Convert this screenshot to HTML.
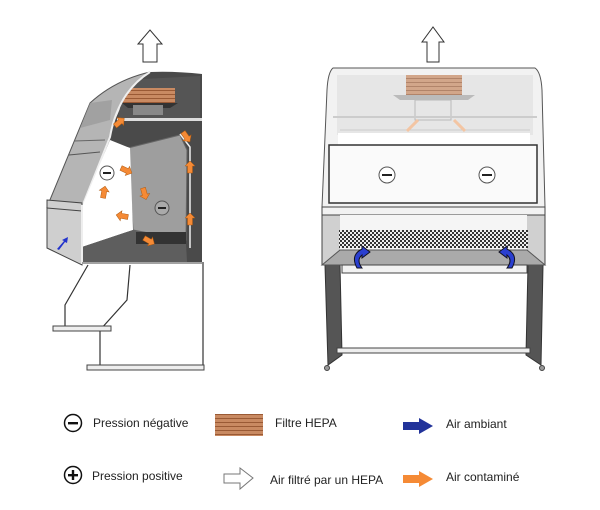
<!DOCTYPE html>
<html><head><meta charset="utf-8"><style>
html,body{margin:0;padding:0;background:#fff;}
svg{display:block;}
text{font-family:"Liberation Sans",Arial,sans-serif;font-size:12px;fill:#222;}
</style></head><body>
<svg width="600" height="510" viewBox="0 0 600 510" xmlns="http://www.w3.org/2000/svg">
<defs>
<pattern id="cu" width="4" height="4" patternUnits="userSpaceOnUse">
<rect width="4" height="4" fill="#c98a62"/><rect y="2" width="4" height="1" fill="#9a5a35"/>
</pattern>
<pattern id="mesh" width="4" height="4" patternUnits="userSpaceOnUse">
<rect width="4" height="4" fill="#eee"/><rect width="2" height="2" fill="#333"/><rect x="2" y="2" width="2" height="2" fill="#333"/>
</pattern>
<g id="oa"><path d="M0,-2.5 L7,-2.5 L7,-5 L12,0 L7,5 L7,2.5 L0,2.5Z" fill="#f58a35" stroke="#b05a10" stroke-width="0.5"/></g>
</defs>

<!-- LEFT CABINET -->
<path d="M143,62 L143,44 L138,44 L150,30 L162,44 L157,44 L157,62Z" fill="#fff" stroke="#333" stroke-width="1"/>
<g fill="none" stroke="#333" stroke-width="1.2">
<path d="M88,265 L65,305 L65,328"/><path d="M130,265 L127,300 L100,330 L100,366"/>
<path d="M203,262 L203,366"/>
</g>
<rect x="53" y="326" width="58" height="5" fill="#eee" stroke="#444"/>
<rect x="87" y="365" width="117" height="5" fill="#eee" stroke="#444"/>
<!-- dark back body -->
<path d="M150,72 Q175,71 202,74 L202,262 L82,262 L82,207 L110,137 Q120,95 150,72Z" fill="#4a4a4a"/>
<!-- top box -->
<path d="M125,80 L200,76 L200,118 L118,118 Z" fill="#555"/>
<rect x="123" y="88" width="52" height="15" fill="url(#cu)"/>
<path d="M122,103 L178,103 L170,108 L128,108Z" fill="#333"/>
<rect x="133" y="105" width="30" height="10" fill="#888"/>
<rect x="117" y="118" width="85" height="3" fill="#ddd"/>
<!-- glass hood -->
<path d="M150,72 Q115,80 90,103 L47,207 L82,207 L110,137 Q118,92 150,72Z" fill="#b5b5b5" stroke="#555" stroke-width="1"/>
<path d="M90,103 L112,100 L110,120 L80,128Z" fill="#999" opacity="0.7"/>
<line x1="69" y1="155" x2="100" y2="152" stroke="#555"/>
<line x1="74" y1="141" x2="105" y2="140" stroke="#666"/>
<path d="M150,72 Q118,92 110,137 L82,207" fill="none" stroke="#eee" stroke-width="2"/>
<!-- lower front box -->
<path d="M47,200 L82,203 L82,265 L47,248Z" fill="#cfcfcf" stroke="#444"/>
<line x1="47" y1="208" x2="82" y2="211" stroke="#444"/>
<!-- chamber -->
<path d="M128,148 L180,135 L187,150 L186,240 L133,230 Z" fill="#9e9e9e" stroke="#666"/>
<path d="M110,140 L130,148 L133,230 L82,247 L82,207 Z" fill="#fff"/>
<path d="M82,247 L133,230 L186,243 L187,262 L82,262Z" fill="#5e5e5e"/>
<rect x="136" y="232" width="50" height="12" fill="#333"/>
<path d="M180,134 L190,147 L190,248" fill="none" stroke="#eee" stroke-width="1.5"/>
<line x1="82" y1="205" x2="82" y2="264" stroke="#eee" stroke-width="2"/>
<line x1="82" y1="263" x2="202" y2="263" stroke="#444"/>
<circle cx="107" cy="173" r="7" fill="#fff" stroke="#555"/><rect x="103" y="172" width="8" height="2" fill="#222"/>
<circle cx="162" cy="208" r="7" fill="#aaa" stroke="#555"/><rect x="158" y="207" width="8" height="2" fill="#222"/>
<use href="#oa" transform="translate(115,126) rotate(-40)"/>
<use href="#oa" transform="translate(183,132) rotate(55)"/>
<use href="#oa" transform="translate(190,173) rotate(-90)"/>
<use href="#oa" transform="translate(190,225) rotate(-90)"/>
<use href="#oa" transform="translate(121,168) rotate(25)"/>
<use href="#oa" transform="translate(143,188) rotate(75)"/>
<use href="#oa" transform="translate(128,217) rotate(190)"/>
<use href="#oa" transform="translate(103,198) rotate(-80)"/>
<use href="#oa" transform="translate(144,238) rotate(30)"/>
<path d="M57,249 L64,241 L62,240 L68,237 L67,243 L65,242 L59,250Z" fill="#2233cc"/>

<!-- RIGHT CABINET -->
<path d="M427,62 L427,42 L422,42 L433,27 L444,42 L439,42 L439,62Z" fill="#fff" stroke="#333"/>
<path d="M325,265 L340,265 L342,355 L328,365Z" fill="#555" stroke="#333"/>
<path d="M528,265 L543,265 L541,365 L526,355Z" fill="#555" stroke="#333"/>
<rect x="337" y="348" width="193" height="5" fill="#eee" stroke="#444"/>
<circle cx="327" cy="368" r="2.5" fill="#999" stroke="#444"/><circle cx="542" cy="368" r="2.5" fill="#999" stroke="#444"/>
<path d="M333,68 L535,68 Q541,72 542,90 L545,207 L322,207 L327,90 Q328,72 333,68Z" fill="#f2f2f2" stroke="#555"/>
<rect x="337" y="75" width="196" height="60" fill="#e6e6e6"/>
<rect x="406" y="75" width="56" height="20" fill="url(#cu)" opacity="0.7"/>
<path d="M393,95 L475,95 L468,100 L400,100Z" fill="#bbb"/>
<rect x="415" y="100" width="36" height="20" fill="none" stroke="#bbb"/>
<line x1="333" y1="117" x2="537" y2="117" stroke="#ccc" stroke-width="2"/>
<line x1="340" y1="130" x2="530" y2="130" stroke="#ccc"/>
<path d="M418,120 L407,131 M454,120 L465,131" stroke="#f3c5a3" stroke-width="3"/>
<rect x="338" y="133" width="192" height="12" fill="#fff"/>
<rect x="329" y="145" width="208" height="58" fill="#fafafa" stroke="#333" stroke-width="1.5"/>
<circle cx="387" cy="175" r="8" fill="#fff" stroke="#555"/><rect x="382" y="174" width="10" height="2" fill="#222"/>
<circle cx="487" cy="175" r="8" fill="#fff" stroke="#555"/><rect x="482" y="174" width="10" height="2" fill="#222"/>
<rect x="322" y="207" width="223" height="8" fill="#f2f2f2" stroke="#444"/>
<rect x="322" y="215" width="223" height="50" fill="#d0d0d0" stroke="#444"/>
<path d="M340,215 L527,215 L527,250 L340,250Z" fill="#f5f5f5"/>
<rect x="339" y="230" width="189" height="18" fill="url(#mesh)"/>
<path d="M322,265 L340,250 L527,250 L545,265Z" fill="#aaa" stroke="#555"/>
<rect x="342" y="265" width="185" height="8" fill="#f2f2f2" stroke="#444"/>
<path d="M357,268 Q350,255 362,249 L362,246 L370,252 L362,258 L362,255 Q356,260 362,268Z" fill="#2a3fd0" stroke="#112"/>
<path d="M512,268 Q519,255 507,249 L507,246 L499,252 L507,258 L507,255 Q513,260 507,268Z" fill="#2a3fd0" stroke="#112"/>

<!-- LEGEND -->
<circle cx="73" cy="423" r="8.5" fill="#fff" stroke="#111" stroke-width="1.5"/><rect x="68" y="422" width="10" height="2.4" fill="#111"/>
<text x="93" y="427">Pression négative</text>
<rect x="215" y="414" width="48" height="22" fill="url(#cu)"/>
<text x="275" y="427">Filtre HEPA</text>
<path d="M403,422 L419,422 L419,418 L433,426 L419,434 L419,430 L403,430Z" fill="#22339a"/>
<text x="446" y="428">Air ambiant</text>
<circle cx="73" cy="475" r="8.5" fill="#fff" stroke="#111" stroke-width="1.5"/><rect x="68" y="474" width="10" height="2.4" fill="#111"/><rect x="71.8" y="470" width="2.4" height="10" fill="#111"/>
<text x="92" y="480">Pression positive</text>
<path d="M224,474 L240,474 L240,468 L253,478 L240,489 L240,483 L224,483Z" fill="#fff" stroke="#777"/>
<text x="270" y="484">Air filtré par un HEPA</text>
<path d="M403,475 L419,475 L419,471 L433,479 L419,487 L419,483 L403,483Z" fill="#f58a35"/>
<text x="446" y="481">Air contaminé</text>
</svg>
</body></html>
